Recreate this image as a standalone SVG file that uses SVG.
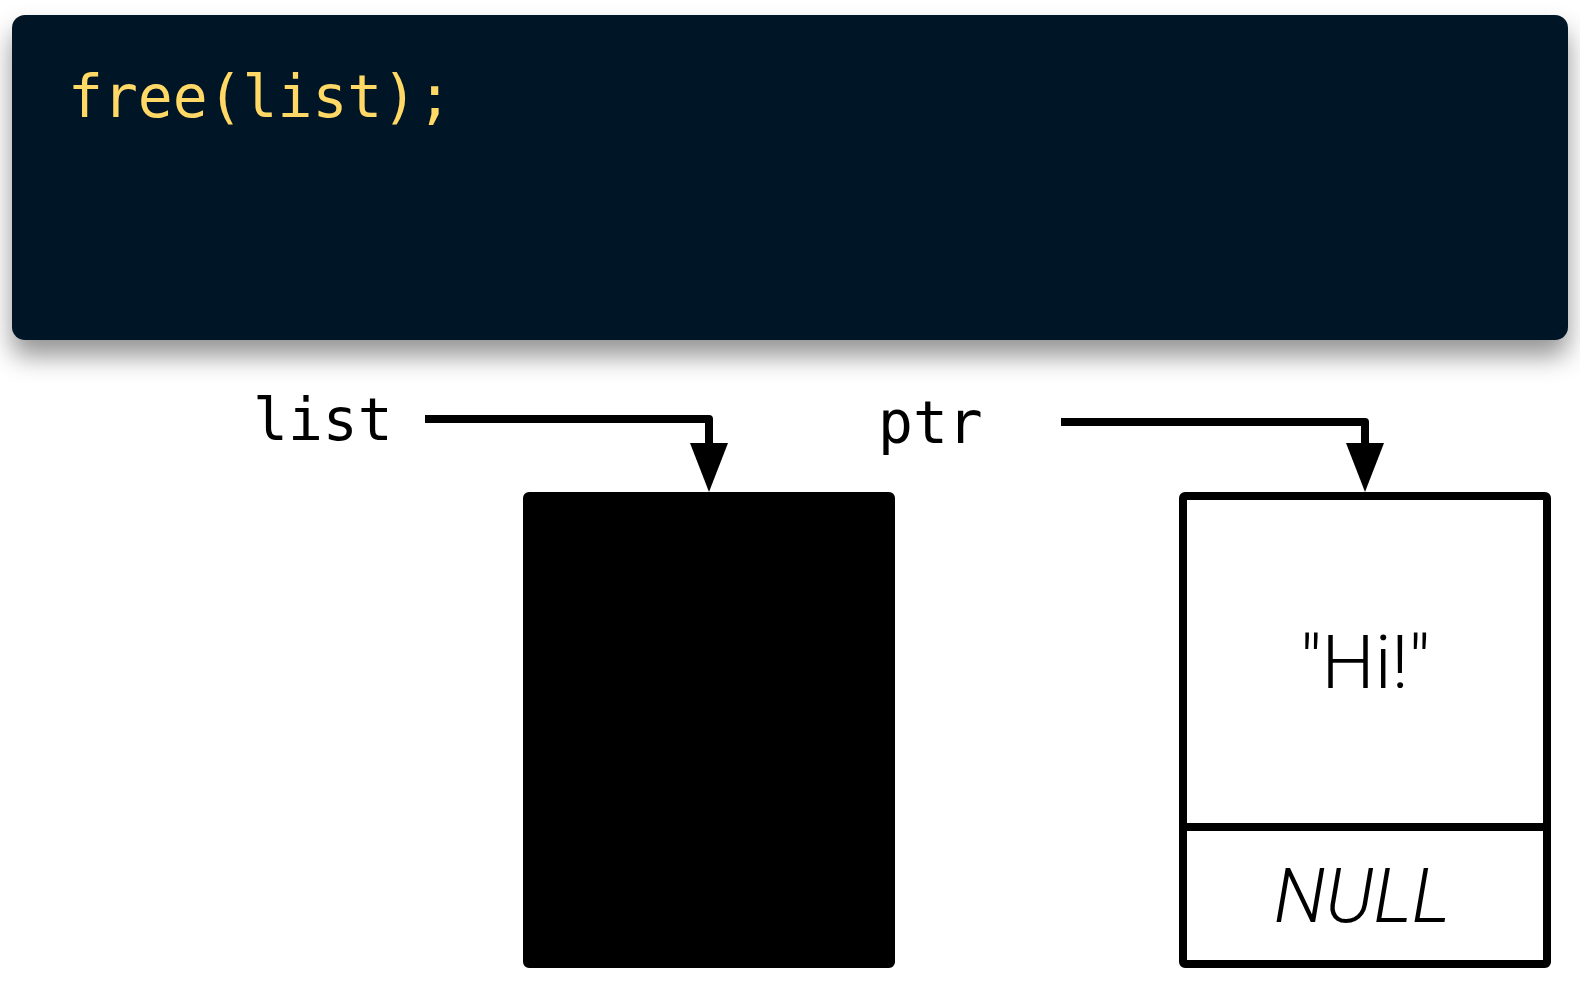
<svg xmlns="http://www.w3.org/2000/svg" width="1580" height="990" viewBox="0 0 1580 990">
  <defs>
    <filter id="shadow" x="-5%" y="-10%" width="110%" height="150%">
      <feDropShadow dx="0" dy="16" stdDeviation="13" flood-color="#000" flood-opacity="0.42"/>
    </filter>
    <marker id="arrow" viewBox="0 0 49 38" refX="1" refY="19" markerWidth="49" markerHeight="38" markerUnits="userSpaceOnUse" orient="auto">
      <path d="M0,0 L49,19 L0,38 Z" fill="#000"/>
    </marker>
  </defs>
  <style>
    .mono { font-family: "DejaVu Sans Mono", "Liberation Mono", monospace; font-size: 58px; }
    .code { fill: #ffd866; }
    .label { fill: #000; }
    .cell { fill: #fff; stroke: #000; stroke-width: 8; stroke-linejoin: round; }
    .freed { fill: #000; stroke: #000; stroke-width: 8; stroke-linejoin: round; }
    .val { font-family: Roboto, "Liberation Sans", sans-serif; font-weight: 300; font-size: 75px; fill: #000; }
    .conn { fill: none; stroke: #000; stroke-width: 8; stroke-linejoin: round; }
  </style>
  <rect width="1580" height="990" fill="#fff"/>
  <g id="code-panel">
    <rect x="12" y="15" width="1556" height="325" rx="13" fill="#031526" filter="url(#shadow)"/>
    <text class="mono code" x="68" y="117">free(list);</text>
  </g>
  <g id="list-label">
    <text class="mono label" x="253" y="440">list</text>
  </g>
  <g id="ptr-label">
    <text class="mono label" x="878" y="443">ptr</text>
  </g>
  <g id="freed-node">
    <rect class="freed" x="527" y="496" width="364" height="468" rx="2"/>
  </g>
  <g id="hi-node">
    <rect class="cell" x="1183" y="496" width="364" height="468" rx="2"/>
    <line x1="1183" y1="827" x2="1547" y2="827" stroke="#000" stroke-width="8"/>
    <text class="val" x="1365" y="688" text-anchor="middle">"Hi!"</text>
    <text class="val" x="1362" y="922" text-anchor="middle" font-style="italic">NULL</text>
  </g>
  <g id="connectors">
    <path class="conn" d="M425,419 H709 V444" marker-end="url(#arrow)"/>
    <path class="conn" d="M1061,422 H1365 V444" marker-end="url(#arrow)"/>
  </g>
</svg>
